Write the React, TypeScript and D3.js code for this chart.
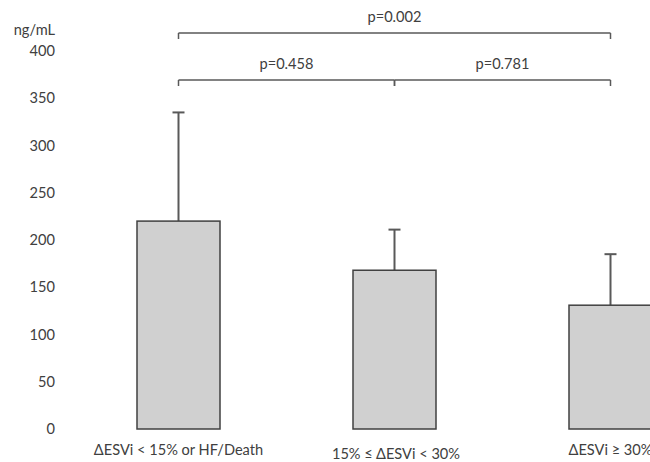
import React from "react";
import * as d3 from "d3";

const categories = ["ΔESVi < 15% or HF/Death", "15% ≤ ΔESVi < 30%", "ΔESVi ≥ 30%"];
const means = [220, 168, 131];
const errors = [115, 43, 54];
const yTicks = [0, 50, 100, 150, 200, 250, 300, 350, 400];
const comparisons = [
  { from: 0, to: 2, label: "p=0.002", level: 0 },
  { from: 0, to: 1, label: "p=0.458", level: 1 },
  { from: 1, to: 2, label: "p=0.781", level: 1 },
];

const W = 650;
const H = 462;
const FONT = "Lato, 'Liberation Sans', sans-serif";

export default function App() {
  const y = d3.scaleLinear().domain([0, 400]).range([429, 51]);
  const x = d3.scaleLinear().domain([0, 2]).range([178.5, 610.5]);
  const bw = 83;
  const lineC = "#595959";
  const textC = "#404040";
  const bracketY = [33, 80];
  const fs = 14.6;

  return (
    <svg width={W} height={H} style={{ position: "absolute", left: 0, top: 0, background: "#fff" }}>
      <text x={55} y={35} textAnchor="end" fontFamily={FONT} fontSize={fs} fill={textC}>ng/mL</text>
      {yTicks.map((t) => (
        <text key={t} x={55} y={y(t) + 5} textAnchor="end" fontFamily={FONT} fontSize={fs} fill={textC}>
          {t}
        </text>
      ))}
      {means.map((m, i) => (
        <g key={i}>
          <line x1={x(i)} x2={x(i)} y1={y(m)} y2={y(m + errors[i])} stroke={lineC} strokeWidth={2} />
          <line x1={x(i) - 6} x2={x(i) + 6} y1={y(m + errors[i])} y2={y(m + errors[i])} stroke={lineC} strokeWidth={2} />
          <rect x={x(i) - bw / 2} y={y(m)} width={bw} height={y(0) - y(m)} fill="#d0d0d0" stroke="#404040" strokeWidth={1.5} />
          <text x={x(i) + (i === 1 ? 1.5 : 0)} y={i === 1 ? 459 : 455} textAnchor="middle" fontFamily={FONT} fontSize={fs} fill={textC}>
            {categories[i]}
          </text>
        </g>
      ))}
      {comparisons.map((c, k) => {
        const by = bracketY[c.level];
        const x1 = x(c.from);
        const x2 = x(c.to);
        return (
          <g key={k}>
            <line x1={x1} x2={x2} y1={by} y2={by} stroke={lineC} strokeWidth={1.5} />
            <line x1={x1} x2={x1} y1={by} y2={by + 6} stroke={lineC} strokeWidth={1.5} />
            <line x1={x2} x2={x2} y1={by} y2={by + 6} stroke={lineC} strokeWidth={1.5} />
            <text x={(x1 + x2) / 2} y={by - 11} textAnchor="middle" fontFamily={FONT} fontSize={fs} fill={textC}>
              {c.label}
            </text>
          </g>
        );
      })}
    </svg>
  );
}
